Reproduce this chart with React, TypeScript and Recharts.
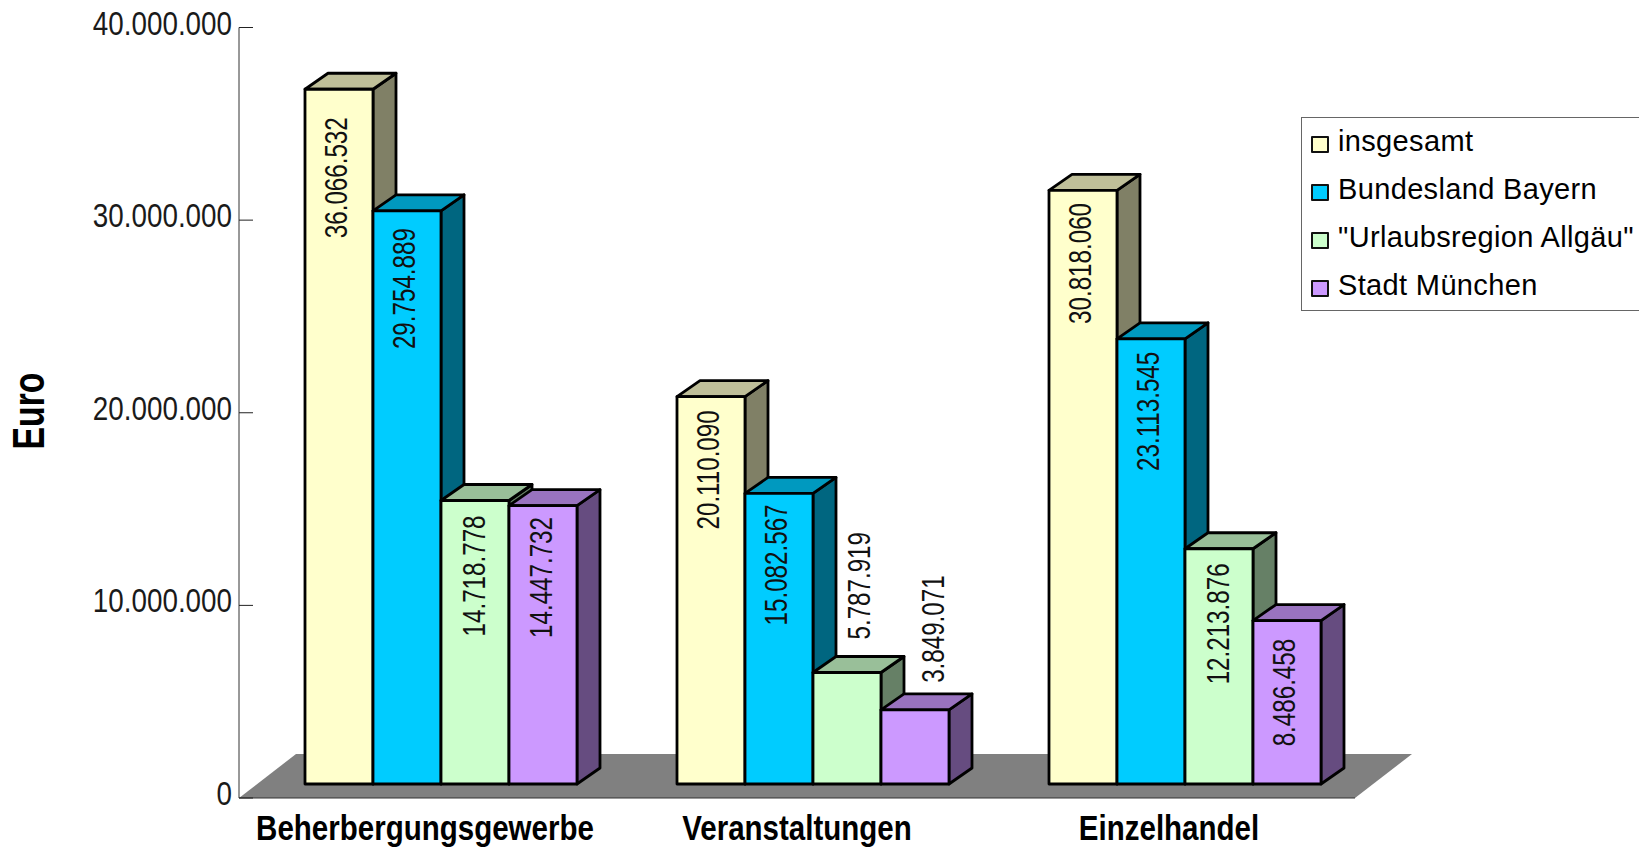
import React from "react";
import { BarChart, Bar, XAxis, YAxis, Legend, LabelList, ReferenceArea } from "recharts";

const categories = ["Beherbergungsgewerbe", "Veranstaltungen", "Einzelhandel"];
const insgesamt = [36066532, 20110090, 30818060];
const bayern = [29754889, 15082567, 23113545];
const allgaeu = [14718778, 5787919, 12213876];
const muenchen = [14447732, 3849071, 8486458];
const seriesNames = ["insgesamt", "Bundesland Bayern", "\"Urlaubsregion Allgäu\"", "Stadt München"];
const yTicks = [0, 10000000, 20000000, 30000000, 40000000];

const rows = categories.map((name, i) => ({
  name,
  s0: insgesamt[i],
  s1: bayern[i],
  s2: allgaeu[i],
  s3: muenchen[i],
}));

const fills = ["#FFFFCC", "#00CCFF", "#CCFFCC", "#CC99FF"];
const tops = ["#BFBF99", "#0099BF", "#99BF99", "#9973BF"];
const sides = ["#808066", "#006680", "#668066", "#664C80"];

const SANS = '"Liberation Sans", Arial, sans-serif';
const NARROW_X = 0.82;

// 3D projection of the bars relative to the chart's front plane
const SHIFT_X = 16;
const SHIFT_Y = 14;
const DEPTH_X = 23;
const DEPTH_Y = 16;
const FLOOR_VALUE = 2283000;
const FLOOR_SKEW = 57;

// label layout: gap below the bar top (positive) or above it (negative), sideways nudge
const labelGaps = [
  [28, 13.7, 12.6],
  [17.3, 11, 13],
  [15, -33, 14.7],
  [11.3, -27, 18.3],
];
const labelNudges = [
  [0, 0, 0],
  [-0.5, 0, 0],
  [1.5, 15, 1.5],
  [0.5, 21, 0],
];

const dotted = (v: number) => String(Math.round(v)).replace(/\B(?=(\d{3})+(?!\d))/g, ".");

function makeShape(si: number) {
  return (props: any) => {
    const { x, y, width, height } = props;
    const x0 = x + SHIFT_X;
    const y0 = y - SHIFT_Y;
    const x1 = x0 + width;
    const y1 = y0 + height;
    const common = { stroke: "#000", strokeWidth: 2.8, strokeLinejoin: "round" as const };
    return (
      <g>
        <polygon
          points={`${x1},${y0} ${x1 + DEPTH_X},${y0 - DEPTH_Y} ${x1 + DEPTH_X},${y1 - DEPTH_Y} ${x1},${y1}`}
          fill={sides[si]}
          {...common}
        />
        <polygon
          points={`${x0},${y0} ${x0 + DEPTH_X},${y0 - DEPTH_Y} ${x1 + DEPTH_X},${y0 - DEPTH_Y} ${x1},${y0}`}
          fill={tops[si]}
          {...common}
        />
        <rect x={x0} y={y0} width={width} height={height} fill={fills[si]} {...common} />
      </g>
    );
  };
}

function makeLabel(si: number) {
  return (props: any) => {
    const { x, y, width, value, index } = props;
    const gap = labelGaps[si][index];
    const cx = x + SHIFT_X + width / 2 - 3 + labelNudges[si][index];
    const py = y - SHIFT_Y + gap;
    return (
      <text
        transform={`translate(${cx},${py}) rotate(-90) scale(0.78,1)`}
        textAnchor={gap >= 0 ? "end" : "start"}
        dy="0.36em"
        fontFamily={SANS}
        fontSize={31}
        fill="#111"
      >
        {dotted(value)}
      </text>
    );
  };
}

const YTick = (props: any) => {
  const { y, payload } = props;
  return (
    <g>
      <line x1={239} x2={253} y1={y} y2={y} stroke="#222" strokeWidth={1} />
      <text
        transform={`translate(232,${y + 7}) scale(0.818,1)`}
        textAnchor="end"
        fontFamily={SANS}
        fontSize={34}
        fill="#1a1a1a"
      >
        {dotted(payload.value)}
      </text>
    </g>
  );
};

const XTick = (props: any) => {
  const { x, payload } = props;
  return (
    <text
      transform={`translate(${x},840) scale(${NARROW_X},1)`}
      textAnchor="middle"
      fontFamily={SANS}
      fontSize={36}
      fontWeight="bold"
      fill="#000"
    >
      {payload.value}
    </text>
  );
};

const Floor = (props: any) => {
  const { x, y, width, height } = props;
  return (
    <polygon
      points={`${x},${y + height} ${x + FLOOR_SKEW},${y} ${x + width + FLOOR_SKEW},${y} ${x + width},${y + height}`}
      fill="#808080"
      stroke="none"
    />
  );
};

const LegendBox = () => (
  <div
    style={{
      width: 345,
      height: 194,
      boxSizing: "border-box",
      border: "1.5px solid #666",
      background: "#fff",
      position: "relative",
    }}
  >
    {seriesNames.map((n, i) => (
      <div key={n}>
        <div
          style={{
            position: "absolute",
            left: 9,
            top: 17.5 + i * 48,
            width: 13.5,
            height: 13,
            background: fills[i],
            border: "2px solid #111",
            borderRadius: 1,
          }}
        />
        <div
          style={{
            position: "absolute",
            left: 36,
            top: 5.5 + i * 48,
            fontFamily: SANS,
            fontSize: 29,
            lineHeight: "34px",
            letterSpacing: 0.35,
            whiteSpace: "nowrap",
            color: "#000",
          }}
        >
          {n}
        </div>
      </div>
    ))}
  </div>
);

export default function App() {
  return (
    <div style={{ position: "absolute", left: 0, top: 0, width: 1639, height: 849, overflow: "hidden", background: "#fff" }}>
      <BarChart
        width={1639}
        height={849}
        data={rows}
        margin={{ top: 27.5, right: 284, bottom: 0, left: 0 }}
        barGap={0}
        barSize={68}
        style={{ overflow: "hidden" }}
      >
        <ReferenceArea y1={0} y2={FLOOR_VALUE} shape={Floor} ifOverflow="visible" />
        <XAxis
          dataKey="name"
          height={51}
          tick={XTick}
          tickLine={false}
          axisLine={{ stroke: "#333", strokeWidth: 1.2 }}
          interval={0}
        />
        <YAxis
          width={239}
          domain={[0, 40000000]}
          ticks={yTicks}
          tick={YTick}
          tickLine={false}
          axisLine={{ stroke: "#333", strokeWidth: 1 }}
          interval={0}
        />
        <Legend
          layout="vertical"
          align="center"
          verticalAlign="middle"
          wrapperStyle={{ left: 1301, top: 117, width: 345, height: 194 }}
          content={<LegendBox />}
        />
        {["s0", "s1", "s2", "s3"].map((k, si) => (
          <Bar key={k} dataKey={k} name={seriesNames[si]} shape={makeShape(si)} isAnimationActive={false}>
            <LabelList dataKey={k} content={makeLabel(si)} />
          </Bar>
        ))}
        <text
          transform="translate(44,411) rotate(-90) scale(0.75,1)"
          textAnchor="middle"
          fontFamily={SANS}
          fontSize={45}
          fontWeight="bold"
          fill="#000"
        >
          Euro
        </text>
      </BarChart>
    </div>
  );
}
